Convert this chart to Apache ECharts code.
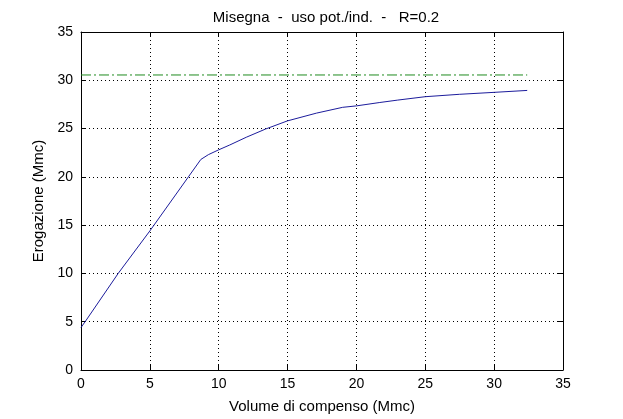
<!DOCTYPE html>
<html>
<head>
<meta charset="utf-8">
<script src="https://cdn.jsdelivr.net/npm/echarts@6/dist/echarts.min.js"></script>
<style>html,body{margin:0;padding:0;background:#fff}#c{width:623px;height:419px}</style>
</head>
<body>
<div id="c"></div>
<script>
var titleText = 'Misegna  -  uso pot./ind.  -   R=0.2';
var xName = 'Volume di compenso (Mmc)';
var yName = 'Erogazione (Mmc)';
var volume = [0, 0.3, 2.7, 5, 7.8, 8.7, 9.25, 10, 10.8, 12, 13.4, 15, 17.1, 19, 20, 21.7, 23, 25, 27.5, 30, 32.4];
var erogazione = [4.4, 5, 10, 14.4, 20, 21.8, 22.3, 22.8, 23.3, 24.1, 24.95, 25.8, 26.6, 27.2, 27.35, 27.7, 27.95, 28.3, 28.55, 28.75, 28.95];
var limitX = [0, 32.4];
var limitY = [30.55, 30.55];

var font = 'Liberation Sans, Arial, sans-serif';
var chart = echarts.init(document.getElementById('c'), null, {renderer: 'canvas'});
function axisCommon(show) {
  return {
    min: 0, max: 35, interval: 5,
    axisLine: {show: true, onZero: false, lineStyle: {color: '#000', width: 1}},
    axisTick: {show: true, inside: true, length: 5, lineStyle: {color: '#000'}},
    axisLabel: {show: show, color: '#000', fontFamily: font, fontSize: 14},
    splitLine: {show: false}
  };
}
var xBottom = axisCommon(true);
xBottom.type = 'value'; xBottom.position = 'bottom';
xBottom.name = xName; xBottom.nameLocation = 'middle'; xBottom.nameGap = 29;
xBottom.nameTextStyle = {color: '#000', fontFamily: font, fontSize: 15};
xBottom.axisLabel.margin = 7;
xBottom.splitLine = {show: true, lineStyle: {color: '#000', type: [1, 3], width: 1}};
var xTop = axisCommon(false); xTop.type = 'value'; xTop.position = 'top';
var yLeft = axisCommon(true);
yLeft.type = 'value'; yLeft.position = 'left';
yLeft.name = yName; yLeft.nameLocation = 'middle'; yLeft.nameGap = 33;
yLeft.nameTextStyle = {color: '#000', fontFamily: font, fontSize: 15};
yLeft.axisLabel.margin = 8;
yLeft.splitLine = {show: true, lineStyle: {color: '#000', type: [1, 3], width: 1}};
var yRight = axisCommon(false); yRight.type = 'value'; yRight.position = 'right';

chart.setOption({
  backgroundColor: '#fff',
  animation: false,
  title: {text: titleText, left: 321, top: 5, textAlign: 'center',
    textStyle: {color: '#000', fontFamily: font, fontSize: 15, fontWeight: 'normal'}},
  grid: {left: 81, right: 60, top: 32, bottom: 47, containLabel: false},
  xAxis: [xBottom, xTop],
  yAxis: [yLeft, yRight],
  series: [
    {type: 'line', xAxisIndex: 0, yAxisIndex: 0, showSymbol: false, symbol: 'none',
      data: volume.map(function (v, i) { return [v, erogazione[i]]; }),
      lineStyle: {color: '#1c1c9c', width: 1}, smooth: false},
    {type: 'line', xAxisIndex: 0, yAxisIndex: 0, showSymbol: false, symbol: 'none',
      data: limitX.map(function (v, i) { return [v, limitY[i]]; }),
      lineStyle: {color: '#1f8a1f', width: 1, type: [10, 3, 2, 3]}}
  ]
});
</script>
</body>
</html>
